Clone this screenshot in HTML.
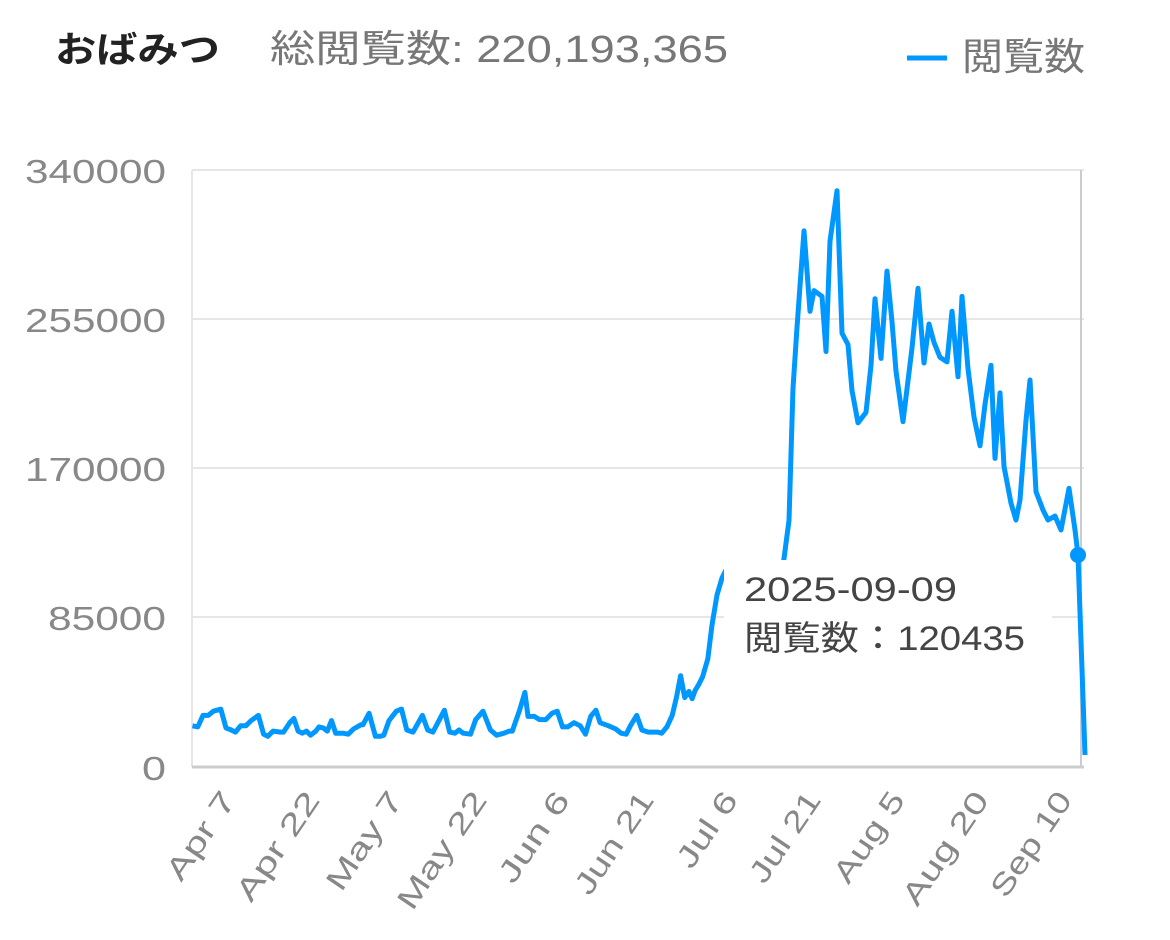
<!DOCTYPE html>
<html><head><meta charset="utf-8"><style>
body{margin:0;background:#fff;width:1170px;height:940px;overflow:hidden}
svg{display:block}
text{font-family:"Liberation Sans","Noto Sans CJK JP",sans-serif}
</style></head><body>
<svg width="1170" height="940" viewBox="0 0 1170 940">
<text x="55" y="62" font-size="36" font-weight="bold" fill="#222" textLength="165" lengthAdjust="spacingAndGlyphs">おばみつ</text>
<text x="270" y="62" font-size="38" fill="#777" textLength="458" lengthAdjust="spacingAndGlyphs">総閲覧数: 220,193,365</text>
<line x1="907" y1="58" x2="947" y2="58" stroke="#0097ff" stroke-width="5"/>
<text x="962" y="70" font-size="38" fill="#777" textLength="123" lengthAdjust="spacingAndGlyphs">閲覧数</text>
<g stroke="#e6e6e6" stroke-width="2">
<line x1="192" y1="170" x2="1084" y2="170"/>
<line x1="192" y1="319" x2="1084" y2="319"/>
<line x1="192" y1="468" x2="1084" y2="468"/>
<line x1="192" y1="617" x2="1084" y2="617"/>
<line x1="192" y1="170" x2="192" y2="767"/>
</g>
<line x1="192" y1="767" x2="1084" y2="767" stroke="#ccc" stroke-width="3"/>
<line x1="1081" y1="170" x2="1081" y2="767" stroke="#ccc" stroke-width="2"/>
<g font-size="33" fill="#888" text-anchor="end">
<text x="166" y="183" textLength="141" lengthAdjust="spacingAndGlyphs">340000</text>
<text x="166" y="332" textLength="141" lengthAdjust="spacingAndGlyphs">255000</text>
<text x="166" y="481" textLength="141" lengthAdjust="spacingAndGlyphs">170000</text>
<text x="166" y="630" textLength="118" lengthAdjust="spacingAndGlyphs">85000</text>
<text x="166" y="780" textLength="24" lengthAdjust="spacingAndGlyphs">0</text>
</g>
<polyline fill="none" stroke="#0097ff" stroke-width="5" stroke-linejoin="round" points="192.5,725.8 197.8,726.9 203,715.4 208.2,715.4 213.4,711.2 220.8,709.1 226,727.9 231.2,730 235.4,732.1 240.6,725.8 245.8,725.8 251.1,720.6 258.4,715.4 263.6,734.2 267.8,736.3 273,731.1 280.3,732.1 283.5,732.1 289.7,722.7 293.9,718.5 298.1,731.1 302.3,733.2 306.4,731.1 310.6,735.2 315.8,731.1 319,726.9 323.2,727.9 327.3,731.1 331.5,720.6 335.7,733.2 343,733.2 348.2,734.2 353.5,729 360.8,724.8 362.9,724.8 369.1,713.3 375.4,736.3 380.6,736.3 383.8,735.2 389,720.6 396.3,711.2 401.5,709.1 406.8,730 413,732.1 422.4,715.4 427.7,730 432.9,732.1 444.4,710.2 449.6,732.1 454.8,733.2 459,730 463.2,733.2 470.5,734.2 475.7,719.6 483,711.2 490.4,730 496.6,735.2 504,733.2 509.2,731.1 512.3,731.1 519.6,710.2 524.9,692.4 528,716.4 534.3,716.4 539.5,719.6 545.8,719.6 552,713.3 557.2,711.2 562.5,726.9 567.7,726.9 574,722.7 580.2,725.8 585.5,734.2 590.7,716.4 595.9,710.2 600.1,722.7 608.5,725.8 615.8,729 621,733.2 626.2,734.2 630.4,725.8 636.7,715.4 641.9,730 648.2,732.1 657.6,732.1 661.7,733.2 666.9,726.9 672.2,715.4 676.4,697.6 680.6,675.7 684.7,697.6 688.9,691.4 692.1,698.7 695.2,690.3 698.4,685.1 702.6,676.7 707.8,659 712,625 717,595 722,578 728,566 740,600 770,600 783,566 789,520.4 793,388.3 797,327.4 804,230.9 810,311.3 814,290.6 822,296.4 826,351.5 830,241.2 837,190.7 842,333.2 848,344.6 852,390.6 858,422.8 866,412.4 871,365.3 875,298.7 881,358.4 887,271.1 892,321.7 896,371.1 903,421.6 912,348.1 918,288.3 924,363 929,324 934,342.4 940,357.3 947,361.9 952,311.3 958,376.8 962,296.4 968,368.8 974,417 980,445.8 985,404.4 991,365.3 995,458.4 1000,392.9 1004,466.4 1011,503.2 1016,520 1020,500 1026,420.5 1030,380 1036,491.7 1043,510 1048,520 1055,516 1061,530 1069,488.3 1075,530 1078,555 1085,755"/>
<rect x="724" y="560" width="328" height="108" fill="#fff"/>
<circle cx="1078" cy="555" r="8" fill="#0097ff"/>
<text x="744" y="601" font-size="34" fill="#444" textLength="213" lengthAdjust="spacingAndGlyphs">2025-09-09</text>
<text x="744" y="650" font-size="34" fill="#444" textLength="281" lengthAdjust="spacingAndGlyphs">閲覧数：120435</text>
<g font-size="30" fill="#888" text-anchor="end">
<text transform="translate(237,800) rotate(-56)" textLength="100" lengthAdjust="spacingAndGlyphs">Apr 7</text>
<text transform="translate(321,800) rotate(-56)" textLength="125" lengthAdjust="spacingAndGlyphs">Apr 22</text>
<text transform="translate(404,800) rotate(-56)" textLength="112" lengthAdjust="spacingAndGlyphs">May 7</text>
<text transform="translate(488,800) rotate(-56)" textLength="135" lengthAdjust="spacingAndGlyphs">May 22</text>
<text transform="translate(571,800) rotate(-56)" textLength="103" lengthAdjust="spacingAndGlyphs">Jun 6</text>
<text transform="translate(655,800) rotate(-56)" textLength="117" lengthAdjust="spacingAndGlyphs">Jun 21</text>
<text transform="translate(739,800) rotate(-56)" textLength="85" lengthAdjust="spacingAndGlyphs">Jul 6</text>
<text transform="translate(822,800) rotate(-56)" textLength="103" lengthAdjust="spacingAndGlyphs">Jul 21</text>
<text transform="translate(906,800) rotate(-56)" textLength="103" lengthAdjust="spacingAndGlyphs">Aug 5</text>
<text transform="translate(990,800) rotate(-56)" textLength="130" lengthAdjust="spacingAndGlyphs">Aug 20</text>
<text transform="translate(1073,800) rotate(-56)" textLength="120" lengthAdjust="spacingAndGlyphs">Sep 10</text>
</g>
</svg>
</body></html>
